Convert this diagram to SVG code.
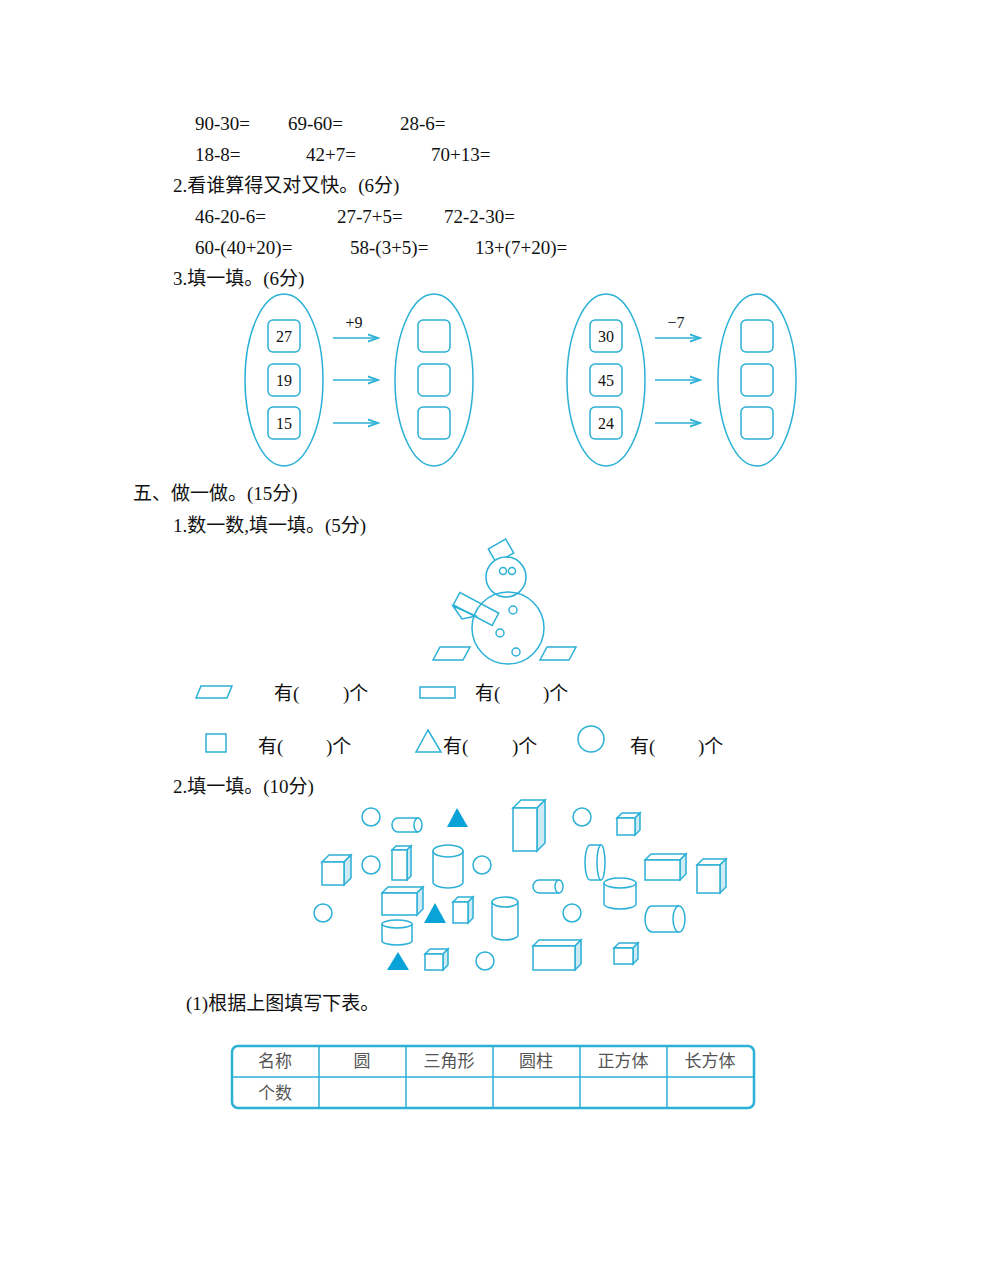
<svg xmlns="http://www.w3.org/2000/svg" width="1000" height="1261" viewBox="0 0 1000 1261">
<style>
text{font-family:"Liberation Serif","Noto Sans CJK SC",serif;font-size:19px;fill:#111}
.s{fill:none;stroke:#2bb0d6;stroke-width:1.5}
.f{fill:#0aa3d8}
.side{fill:#cdeaf5;stroke:#2bb0d6;stroke-width:1.5}
.w{fill:#fff;stroke:#2bb0d6;stroke-width:1.5}
.t{font-size:16px}
.tb{font-size:17px;fill:#555}
</style>
<defs>
<marker id="a" markerWidth="8" markerHeight="8" refX="7" refY="4" orient="auto"><path d="M0,1.5 L7,4 L0,6.5" fill="none" stroke="#2bb0d6" stroke-width="1.2"/></marker>
</defs>
<rect width="1000" height="1261" fill="#fff"/>
<g id="text">
<text x="195" y="130">90-30=</text><text x="288" y="130">69-60=</text><text x="400" y="130">28-6=</text>
<text x="195" y="161">18-8=</text><text x="306" y="161">42+7=</text><text x="431" y="161">70+13=</text>
<text x="173" y="192">2.看谁算得又对又快。(6分)</text>
<text x="195" y="223">46-20-6=</text><text x="337" y="223">27-7+5=</text><text x="444" y="223">72-2-30=</text>
<text x="195" y="254">60-(40+20)=</text><text x="350" y="254">58-(3+5)=</text><text x="475" y="254">13+(7+20)=</text>
<text x="173" y="285">3.填一填。(6分)</text>
<text x="133" y="500">五、做一做。(15分)</text>
<text x="173" y="532">1.数一数,填一填。(5分)</text>
<text x="173" y="793">2.填一填。(10分)</text>
<text x="186" y="1010">(1)根据上图填写下表。</text>
</g>
<g id="ovals">
<ellipse class="s" cx="284" cy="380" rx="39" ry="86"/>
<ellipse class="s" cx="434" cy="380" rx="39" ry="86"/>
<ellipse class="s" cx="606" cy="380" rx="39" ry="86"/>
<ellipse class="s" cx="757" cy="380" rx="39" ry="86"/>
<rect class="s" x="268" y="320" width="32" height="32" rx="5"/><text class="t" x="284" y="342" text-anchor="middle">27</text>
<rect class="s" x="268" y="364" width="32" height="32" rx="5"/><text class="t" x="284" y="386" text-anchor="middle">19</text>
<rect class="s" x="268" y="407" width="32" height="32" rx="5"/><text class="t" x="284" y="429" text-anchor="middle">15</text>
<rect class="s" x="418" y="320" width="32" height="32" rx="5"/>
<rect class="s" x="418" y="364" width="32" height="32" rx="5"/>
<rect class="s" x="418" y="407" width="32" height="32" rx="5"/>
<rect class="s" x="590" y="320" width="32" height="32" rx="5"/><text class="t" x="606" y="342" text-anchor="middle">30</text>
<rect class="s" x="590" y="364" width="32" height="32" rx="5"/><text class="t" x="606" y="386" text-anchor="middle">45</text>
<rect class="s" x="590" y="407" width="32" height="32" rx="5"/><text class="t" x="606" y="429" text-anchor="middle">24</text>
<rect class="s" x="741" y="320" width="32" height="32" rx="5"/>
<rect class="s" x="741" y="364" width="32" height="32" rx="5"/>
<rect class="s" x="741" y="407" width="32" height="32" rx="5"/>
<text class="t" x="354" y="328" text-anchor="middle">+9</text>
<text class="t" x="676" y="328" text-anchor="middle">−7</text>
</g>
<g id="connectors">
<line class="s" x1="333" y1="338" x2="378" y2="338" marker-end="url(#a)"/>
<line class="s" x1="333" y1="380" x2="378" y2="380" marker-end="url(#a)"/>
<line class="s" x1="333" y1="423" x2="378" y2="423" marker-end="url(#a)"/>
<line class="s" x1="655" y1="338" x2="700" y2="338" marker-end="url(#a)"/>
<line class="s" x1="655" y1="380" x2="700" y2="380" marker-end="url(#a)"/>
<line class="s" x1="655" y1="423" x2="700" y2="423" marker-end="url(#a)"/>
</g>
<g id="snowman">
<rect class="w" x="-10" y="-8" width="20" height="16" transform="translate(501,551) rotate(-30)"/>
<circle class="w" cx="506" cy="577" r="20"/>
<circle class="s" cx="503" cy="571" r="3.5"/><circle class="s" cx="512" cy="571" r="3.5"/>
<path class="s" d="M453,606 L462,619 L476,616 Z"/>
<circle class="s" cx="508" cy="628" r="36"/>
<rect class="s" x="-22" y="-7" width="44" height="14" transform="translate(476,609) rotate(28)"/>
<circle class="s" cx="513" cy="610" r="4"/><circle class="s" cx="500" cy="633" r="4"/><circle class="s" cx="516" cy="652" r="4"/>
<path class="s" d="M440,647 L470,647 L463,660 L433,660 Z"/>
<path class="s" d="M547,647 L576,647 L569,660 L540,660 Z"/>
</g>
<g id="legend">
<path class="s" d="M201,686 L232,686 L227,698 L196,698 Z"/><text x="274" y="700">有(</text><text x="343" y="700">)个</text>
<rect class="s" x="420" y="687" width="35" height="11"/><text x="475" y="700">有(</text><text x="543" y="700">)个</text>
<rect class="s" x="206" y="734" width="20" height="18"/><text x="258" y="753">有(</text><text x="326" y="753">)个</text>
<path class="s" d="M428,730 L441,752 L416,752 Z"/><text x="443" y="753">有(</text><text x="512" y="753">)个</text>
<circle class="s" cx="591" cy="739" r="13"/><text x="630" y="753">有(</text><text x="698" y="753">)个</text>
</g>
<g id="solids">
<circle class="s" cx="371" cy="817" r="9"/><circle class="s" cx="582" cy="817" r="9"/>
<circle class="s" cx="371" cy="865" r="9"/><circle class="s" cx="482" cy="865" r="9"/>
<circle class="s" cx="323" cy="913" r="9"/><circle class="s" cx="572" cy="913" r="9"/>
<circle class="s" cx="485" cy="961" r="9"/>
<path class="f" d="M457,808 L468,827 L447,827 Z"/>
<path class="f" d="M435,903 L446,923 L424,923 Z"/>
<path class="f" d="M398,952 L409,970 L387,970 Z"/>
<!-- horizontal cylinders -->
<path class="s" d="M398,818 L418,818 M398,832 L418,832 M398,818 A6,7 0 0 0 398,832"/><ellipse class="s" cx="418" cy="825" rx="4" ry="7"/>
<path class="s" d="M539,880 L559,880 M539,893 L559,893 M539,880 A6,6.5 0 0 0 539,893"/><ellipse class="s" cx="559" cy="886.5" rx="4" ry="6.5"/>
<path class="s" d="M652,906 L679,906 M652,932 L679,932 M652,906 A7,13 0 0 0 652,932"/><ellipse class="s" cx="679" cy="919" rx="6" ry="13"/>
<path class="s" d="M590,845 L601,845 M590,880 L601,880 M590,845 A5,17.5 0 0 0 590,880"/><ellipse class="s" cx="601" cy="862.5" rx="4" ry="17.5"/>
<!-- vertical cylinders -->
<path class="s" d="M433,851 L433,882 A15,6 0 0 0 463,882 L463,851"/><ellipse class="s" cx="448" cy="851" rx="15" ry="6"/>
<path class="s" d="M604,883 L604,904 A16,5 0 0 0 636,904 L636,883"/><ellipse class="s" cx="620" cy="883" rx="16" ry="5"/>
<path class="s" d="M492,902 L492,935 A13,5 0 0 0 518,935 L518,902"/><ellipse class="s" cx="505" cy="902" rx="13" ry="5"/>
<path class="s" d="M382,924 L382,941 A15,4 0 0 0 412,941 L412,924"/><ellipse class="s" cx="397" cy="924" rx="15" ry="4"/>
<!-- boxes: front rect, top, side -->
<g>
<path class="w" d="M513,808 L521,800 L545,800 L537,808 Z"/><path class="side" d="M537,808 L545,800 L545,843 L537,851 Z"/><rect class="w" x="513" y="808" width="24" height="43"/>
<path class="w" d="M617,818 L622,813 L640,813 L635,818 Z"/><path class="side" d="M635,818 L640,813 L640,830 L635,835 Z"/><rect class="w" x="617" y="818" width="18" height="17"/>
<path class="w" d="M322,862 L329,855 L351,855 L344,862 Z"/><path class="side" d="M344,862 L351,855 L351,878 L344,885 Z"/><rect class="w" x="322" y="862" width="22" height="23"/>
<path class="w" d="M392,850 L396,846 L411,846 L407,850 Z"/><path class="side" d="M407,850 L411,846 L411,876 L407,880 Z"/><rect class="w" x="392" y="850" width="15" height="30"/>
<path class="w" d="M645,860 L651,854 L686,854 L680,860 Z"/><path class="side" d="M680,860 L686,854 L686,874 L680,880 Z"/><rect class="w" x="645" y="860" width="35" height="20"/>
<path class="w" d="M697,865 L703,859 L726,859 L720,865 Z"/><path class="side" d="M720,865 L726,859 L726,887 L720,893 Z"/><rect class="w" x="697" y="865" width="23" height="28"/>
<path class="w" d="M382,893 L388,887 L423,887 L417,893 Z"/><path class="side" d="M417,893 L423,887 L423,909 L417,915 Z"/><rect class="w" x="382" y="893" width="35" height="22"/>
<path class="w" d="M453,902 L458,897 L473,897 L468,902 Z"/><path class="side" d="M468,902 L473,897 L473,918 L468,923 Z"/><rect class="w" x="453" y="902" width="15" height="21"/>
<path class="w" d="M425,954 L430,949 L448,949 L443,954 Z"/><path class="side" d="M443,954 L448,949 L448,965 L443,970 Z"/><rect class="w" x="425" y="954" width="18" height="16"/>
<path class="w" d="M533,946 L539,940 L581,940 L575,946 Z"/><path class="side" d="M575,946 L581,940 L581,964 L575,970 Z"/><rect class="w" x="533" y="946" width="42" height="24"/>
<path class="w" d="M614,948 L619,943 L638,943 L633,948 Z"/><path class="side" d="M633,948 L638,943 L638,959 L633,964 Z"/><rect class="w" x="614" y="948" width="19" height="16"/>
</g>
</g>
<g id="table">
<rect x="232" y="1046" width="522" height="62" rx="6" fill="none" stroke="#2bb0d6" stroke-width="2.5"/>
<line class="s" x1="232" y1="1077" x2="754" y2="1077"/>
<line class="s" x1="319" y1="1046" x2="319" y2="1108"/><line class="s" x1="406" y1="1046" x2="406" y2="1108"/>
<line class="s" x1="493" y1="1046" x2="493" y2="1108"/><line class="s" x1="580" y1="1046" x2="580" y2="1108"/>
<line class="s" x1="667" y1="1046" x2="667" y2="1108"/>
<text class="tb" x="275" y="1067" text-anchor="middle">名称</text>
<text class="tb" x="362" y="1067" text-anchor="middle">圆</text>
<text class="tb" x="449" y="1067" text-anchor="middle">三角形</text>
<text class="tb" x="536" y="1067" text-anchor="middle">圆柱</text>
<text class="tb" x="623" y="1067" text-anchor="middle">正方体</text>
<text class="tb" x="710" y="1067" text-anchor="middle">长方体</text>
<text class="tb" x="275" y="1099" text-anchor="middle">个数</text>
</g>
</svg>
